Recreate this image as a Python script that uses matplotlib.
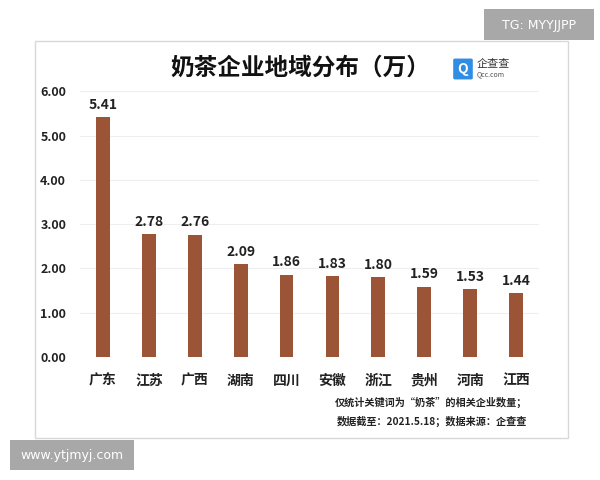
import matplotlib
matplotlib.use("Agg")
import matplotlib.pyplot as plt
from matplotlib.patches import Rectangle, FancyBboxPatch

plt.rcParams["font.family"] = "Noto Sans CJK SC"

provinces = ["广东", "江苏", "广西", "湖南", "四川", "安徽", "浙江", "贵州", "河南", "江西"]
values = [5.41, 2.78, 2.76, 2.09, 1.86, 1.83, 1.80, 1.59, 1.53, 1.44]
yticks = [0, 1, 2, 3, 4, 5, 6]

fig = plt.figure(figsize=(6, 4.8), dpi=100)
fig.patch.set_facecolor("white")

# card
fig.patches.append(Rectangle((35/600, 1-438/480), 533/600, 397/480, transform=fig.transFigure,
                             facecolor="white", edgecolor="#d8d8d8", lw=1, zorder=-5))

ax = fig.add_axes([80/600, 0.256, 459/600, 0.554])
ax.set_zorder(2)
ax.set_facecolor("none")
x = range(len(provinces))
ax.bar(x, values, width=0.3, color="#9b5536", zorder=3)
for i, v in zip(x, values):
    ax.text(i, v + 0.12, f"{v:.2f}", ha="center", va="bottom", fontsize=10, fontweight="bold", color="#222222")
ax.set_ylim(0, 6)
ax.set_xlim(-0.5, len(provinces) - 0.5)
ax.set_yticks(yticks)
ax.set_yticklabels([f"{t:.2f}" for t in yticks], fontsize=9, fontweight="bold", color="#222222")
ax.set_xticks(list(x))
ax.set_xticklabels(provinces, fontsize=10, fontweight="bold", color="#222222")
ax.tick_params(length=0, pad=12)
ax.tick_params(axis="y", pad=10)
ax.grid(axis="y", color="#eeeeee", lw=0.8, zorder=0)
for s in ax.spines.values():
    s.set_visible(False)

fig.text(0.5, 1-68/480, "奶茶企业地域分布（万）", ha="center", va="center", fontsize=17, fontweight="bold", color="#111111")
# logo
fig.patches.append(FancyBboxPatch((455/600, 1-78/480), 16/600, 18/480, boxstyle="round,pad=0.003",
                                  transform=fig.transFigure, facecolor="#2f8de4", edgecolor="none"))
fig.text(463/600, 1-69/480, "Q", ha="center", va="center", fontsize=10, fontweight="bold", color="white")
fig.text(477/600, 1-64/480, "企查查", ha="left", va="center", fontsize=8, color="#333333")
fig.text(477/600, 1-74/480, "Qcc.com", ha="left", va="center", fontsize=5, color="#555555")

fig.text(527/600, 1-402/480, "仅统计关键词为“奶茶”的相关企业数量；", ha="right", va="center", fontsize=7.3, fontweight="bold", color="#222222")
fig.text(527/600, 1-421/480, "数据截至：2021.5.18；数据来源：企查查", ha="right", va="center", fontsize=7.3, fontweight="bold", color="#222222")

# watermarks
fig.patches.append(Rectangle((484/600, 1-40/480), 110/600, 31/480, transform=fig.transFigure,
                             facecolor="#a8a8a8", edgecolor="none"))
fig.text(539/600, 1-25/480, "TG: MYYJJPP", ha="center", va="center", fontsize=9, color="white", family="DejaVu Sans")
fig.patches.append(Rectangle((10/600, 1-470/480), 124/600, 30/480, transform=fig.transFigure,
                             facecolor="#a8a8a8", edgecolor="none"))
fig.text(72/600, 1-455/480, "www.ytjmyj.com", ha="center", va="center", fontsize=9, color="white", family="DejaVu Sans")

fig.savefig("out.png", dpi=100)
